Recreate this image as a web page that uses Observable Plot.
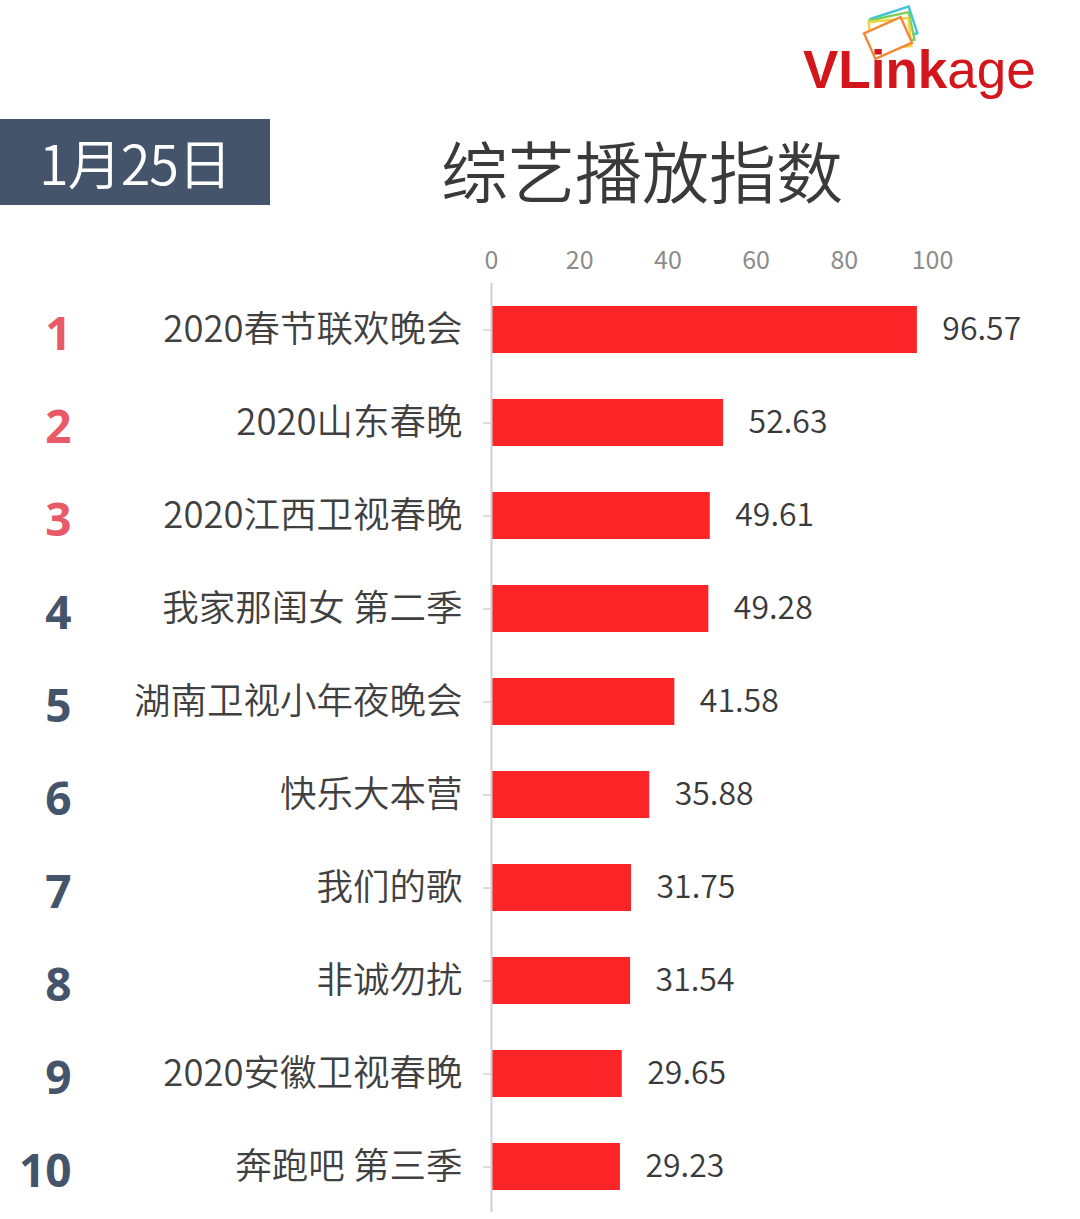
<!DOCTYPE html>
<html>
<head>
<meta charset="utf-8">
<script src="https://cdn.jsdelivr.net/npm/d3@7"></script>
<script src="https://cdn.jsdelivr.net/npm/@observablehq/plot@0.6"></script>
<style>
  html, body { margin: 0; padding: 0; background: #fff; }
  #page { position: relative; width: 1080px; height: 1219px; overflow: hidden; background: #fff;
          font-family: "Noto Sans CJK SC", "Noto Sans", sans-serif; }
  #badge { position: absolute; left: 0; top: 119px; width: 270px; height: 86px; background: #44546a;
           color: #fff; font-size: 54px; line-height: 86px; text-align: center; letter-spacing: -1px; font-weight: 350; }
  #title { position: absolute; left: 342px; top: 124px; width: 600px; text-align: center;
           font-size: 67px; line-height: 90px; color: #3a3a3a; font-weight: 350; }
  #logo { position: absolute; left: 803px; top: 40px; font-family: "Liberation Sans", Arial, sans-serif;
          font-size: 53px; line-height: 60px; color: #d3161c; white-space: nowrap; }
  #logo b { font-weight: 700; }
  #icon { position: absolute; left: 850px; top: 4px; }
  #chart { position: absolute; left: 0; top: 230px; }
</style>
</head>
<body>
<div id="page">
  <svg id="icon" width="80" height="60" viewBox="0 0 80 60">
    <g fill="#fff" stroke-width="2.4">
      <rect x="24" y="8" width="40" height="28" stroke="#3fc3d8" transform="rotate(-18 44 22)"/>
      <rect x="22" y="12" width="40" height="28" stroke="#7dcf5c" transform="rotate(-12 42 26)"/>
      <rect x="20" y="16" width="40" height="28" stroke="#f2d33a" transform="rotate(-6 40 30)"/>
      <rect x="18" y="20" width="40" height="28" stroke="#f08a3a" transform="rotate(-24 38 34)"/>
    </g>
  </svg>
  <div id="logo"><b>VLink</b>age</div>
  <div id="badge">1月25日</div>
  <div id="title">综艺播放指数</div>
  <div id="chart"></div>
</div>
<script>
const names = ["2020春节联欢晚会", "2020山东春晚", "2020江西卫视春晚", "我家那闺女 第二季", "湖南卫视小年夜晚会",
               "快乐大本营", "我们的歌", "非诚勿扰", "2020安徽卫视春晚", "奔跑吧 第三季"];
const values = [96.57, 52.63, 49.61, 49.28, 41.58, 35.88, 31.75, 31.54, 29.65, 29.23];
const ranks = [1, 2, 3, 4, 5, 6, 7, 8, 9, 10];
const xTicks = [0, 20, 40, 60, 80, 100];

const data = names.map((name, i) => ({name, value: values[i], rank: ranks[i]}));

const chart = Plot.plot({
  width: 1080,
  height: 989,
  marginTop: 53,
  marginBottom: 7,
  marginLeft: 491,
  marginRight: 148,
  style: {fontFamily: "'Noto Sans CJK SC', 'Noto Sans', sans-serif", background: "transparent"},
  x: {domain: [0, 100], label: null},
  y: {domain: names, paddingInner: 0.5, paddingOuter: 0.23, label: null},
  marks: [
    Plot.axisX({anchor: "top", ticks: xTicks, tickSize: 0, tickPadding: 15, fontSize: 25, color: "#8c8c8c", label: null}),
    Plot.axisY({tickSize: 8, tickPadding: 21, fontSize: 36.5, fontWeight: 350, color: "#404040", stroke: "#b8b8b8", label: null}),
    Plot.barX(data, {x: "value", y: "name", fill: "#fb2427"}),
    Plot.ruleX([0], {stroke: "#d0d0d0", strokeWidth: 2}),
    Plot.text(data, {x: "value", y: "name", text: d => d.value.toFixed(2), dx: 25, textAnchor: "start",
                     fontSize: 32, fontWeight: 350, fill: "#3a3a3a"}),
    Plot.text(data.filter(d => d.rank <= 3), {y: "name", text: d => String(d.rank), frameAnchor: "left",
                     dx: -420, dy: 5, textAnchor: "end", fontSize: 46, fontWeight: 700, fill: "#e95a68",
                     fontFamily: "'Open Sans', sans-serif"}),
    Plot.text(data.filter(d => d.rank > 3), {y: "name", text: d => String(d.rank), frameAnchor: "left",
                     dx: -420, dy: 5, textAnchor: "end", fontSize: 46, fontWeight: 700, fill: "#44546a",
                     fontFamily: "'Open Sans', sans-serif"})
  ]
});
document.getElementById("chart").appendChild(chart);
</script>
</body>
</html>
